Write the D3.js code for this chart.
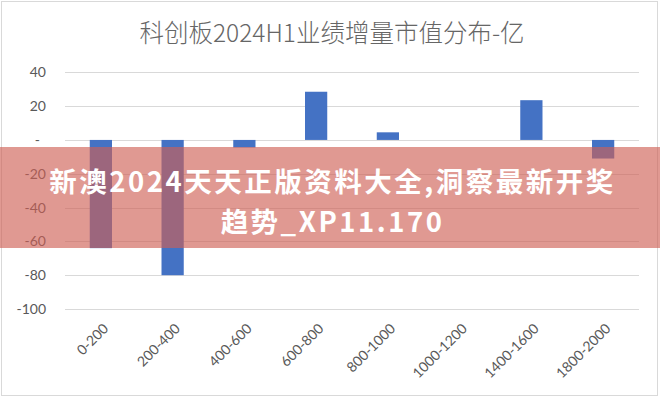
<!DOCTYPE html>
<html>
<head>
<meta charset="utf-8">
<script src="https://cdn.jsdelivr.net/npm/d3@7"></script>
<style>
  body { margin: 0; background: #fff; }
  svg { display: block; }
</style>
</head>
<body>
<div id="chart"></div>
<script>
// chart data
var categories = ["0-200", "200-400", "400-600", "600-800", "800-1000", "1000-1200", "1400-1600", "1800-2000"];
var values = [-64, -80, -4.5, 28.5, 4.5, 0, 23.5, -11];
var yTicks = [40, 20, 0, -20, -40, -60, -80, -100];
var titleText = "科创板2024H1业绩增量市值分布-亿";
var bannerLines = ["新澳2024天天正版资料大全,洞察最新开奖", "趋势_XP11.170"];

var width = 660, height = 397;
var margin = {top: 72, right: 21, bottom: 88, left: 65};

var svg = d3.select("#chart").append("svg")
    .attr("width", width)
    .attr("height", height);

// outer frame
svg.append("rect")
    .attr("x", 1.5).attr("y", 1.5)
    .attr("width", width - 4).attr("height", height - 3)
    .attr("fill", "#fff")
    .attr("stroke", "#d9d9d9");

svg.append("text")
    .attr("x", 332)
    .attr("y", 42)
    .attr("text-anchor", "middle")
    .attr("fill", "#666")
    .style("font-family", "'Noto Sans CJK SC', 'Noto Sans', sans-serif")
    .style("font-weight", "300")
    .style("font-size", "24.5px")
    .text(titleText);

var x = d3.scaleBand()
    .domain(categories)
    .range([margin.left, width - margin.right])
    .paddingInner(0.69)
    .paddingOuter(0.345);

var y = d3.scaleLinear()
    .domain([-100, 40])
    .range([309, 72.3]);

//gridlines
svg.append("g")
    .selectAll("line")
    .data(yTicks)
    .enter()
    .append("line")
    .attr("x1", margin.left)
    .attr("x2", width - margin.right)
    .attr("y1", function(d){ return Math.round(y(d)) + 0.5; })
    .attr("y2", function(d){ return Math.round(y(d)) + 0.5; })
    .attr("stroke", "#d9d9d9")
    .attr("stroke-width", 1);

// y axis labels, no domain line
var yAxis = d3.axisLeft(y)
    .tickValues(yTicks)
    .tickSize(0)
    .tickPadding(0)
    .tickFormat(function(d){ return d === 0 ? "-" : d; });

var gy = svg.append("g")
    .attr("transform", "translate(46,0)")
    .call(yAxis);
gy.select(".domain").remove();
gy.selectAll("text")
    .attr("fill", "#595959")
    .attr("dx", function(d){ return d === 0 ? -6 : 0; })
    .style("font-family", "Lato, 'Liberation Sans', sans-serif")
    .style("font-size", "14px");

// bars
svg.append("g")
    .selectAll("rect")
    .data(values)
    .enter()
    .append("rect")
    .attr("x", function(d, i){ return x(categories[i]); })
    .attr("width", x.bandwidth())
    .attr("y", function(d){ return y(Math.max(0, d)); })
    .attr("height", function(d){ return Math.abs(y(d) - y(0)); })
    .attr("fill", "#4472c4");

// x labels rotated
var xAxis = d3.axisBottom(x).tickSize(0).tickPadding(0);
var gx = svg.append("g")
    .attr("transform", "translate(0,326)")
    .call(xAxis);
gx.select(".domain").remove();
gx.selectAll("text")
    .attr("fill", "#595959")
    .attr("text-anchor", "end")
    .attr("dy", "0.35em")
    .attr("transform", "translate(5,0) rotate(-45)")
    .style("font-family", "Lato, 'Liberation Sans', sans-serif")
    .style("font-size", "14px");

// overlay banner
svg.append("rect")
    .attr("x", 0)
    .attr("y", 147)
    .attr("width", width)
    .attr("height", 101)
    .attr("fill", "rgb(206,96,84)")
    .attr("fill-opacity", 0.64);

svg.append("g")
    .selectAll("text")
    .data(bannerLines)
    .enter()
    .append("text")
    .attr("x", 332.5)
    .attr("y", function(d, i){ return 180 + i * 40; })
    .attr("text-anchor", "middle")
    .attr("dominant-baseline", "central")
    .attr("fill", "#fff")
    .style("font-family", "'Noto Sans CJK SC', sans-serif")
    .style("font-weight", "700")
    .style("font-size", "27.5px")
    .style("letter-spacing", "2.5px")
    .text(function(d){ return d; });
</script>
</body>
</html>
